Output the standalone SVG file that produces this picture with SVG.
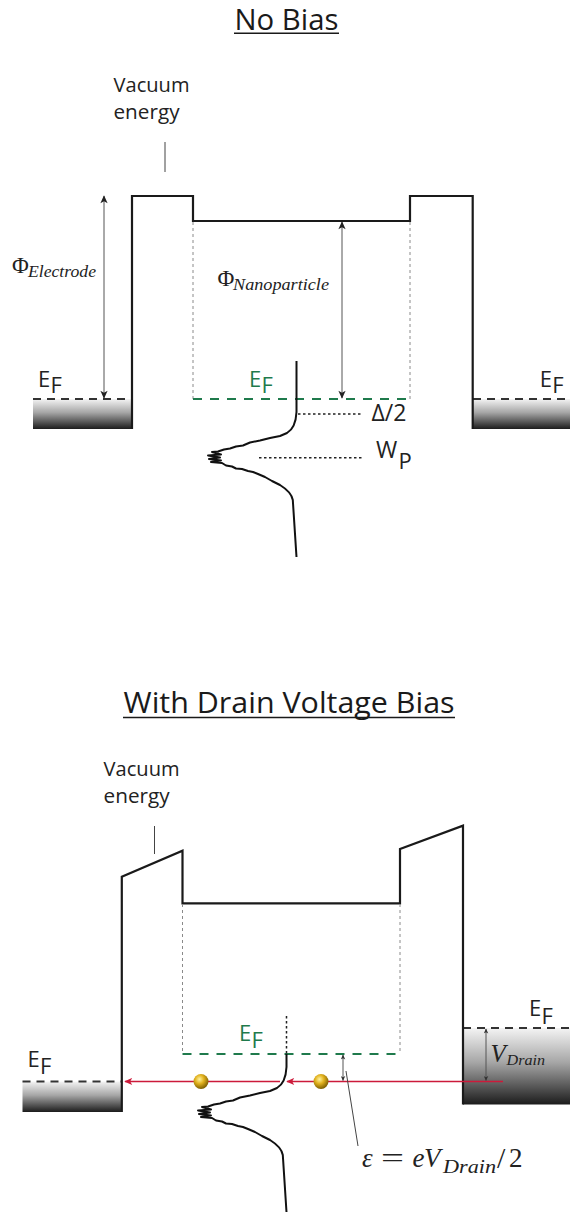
<svg xmlns="http://www.w3.org/2000/svg" xmlns:xlink="http://www.w3.org/1999/xlink" width="570" height="1213" viewBox="0 0 570 1213">
<style>
.bg{fill:#ffffff}
.title{font-family:"Open Sans","Liberation Sans",sans-serif;font-size:30px;fill:#1a1a1a}
.lbl{font-family:"Open Sans","Liberation Sans",sans-serif;font-size:22px;fill:#222}
.vac{font-family:"Open Sans","Liberation Sans",sans-serif;font-size:20px;fill:#222}
.green{fill:#1f7a4c}
.math{font-family:"Liberation Serif","DejaVu Serif",serif;fill:#222}
.it{font-style:italic}
.ul{stroke:#1a1a1a;stroke-width:1.5}
.bar{fill:none;stroke:#1a1a1a;stroke-width:2.2;stroke-linejoin:miter}
.efd{stroke:#333;stroke-width:2;stroke-dasharray:8 6;fill:none}
.efg{stroke:#1f7a4c;stroke-width:2;stroke-dasharray:9 8;fill:none}
.gdot{stroke:#8a8a8a;stroke-width:1;stroke-dasharray:3 3;fill:none}
.kdot{stroke:#222;stroke-width:1.5;stroke-dasharray:2.5 2.5;fill:none}
.lead{stroke:#444;stroke-width:1;fill:none}
.arr{stroke:#555;stroke-width:1;fill:none}
.red{stroke:#cc1a3a;stroke-width:1.3;fill:none}
.dos{stroke:#111;stroke-width:2;fill:none;stroke-linejoin:round}
</style>
<defs>
<linearGradient id="metal" x1="0" y1="0" x2="0" y2="1">
<stop offset="0" stop-color="#f4f4f4"/>
<stop offset="0.45" stop-color="#a6a6a6"/>
<stop offset="1" stop-color="#1c1c1c"/>
</linearGradient>
<radialGradient id="gold" cx="0.4" cy="0.35" r="0.65">
<stop offset="0" stop-color="#fff3a0"/>
<stop offset="0.45" stop-color="#e2b21e"/>
<stop offset="1" stop-color="#7e5e00"/>
</radialGradient>
<marker id="ah" viewBox="0 0 10 10" refX="9" refY="5" markerUnits="userSpaceOnUse" markerWidth="9" markerHeight="8" orient="auto-start-reverse">
<path d="M0,0.5 L10,5 L0,9.5 L2.5,5 z" fill="#222"/>
</marker>
<marker id="ahs" viewBox="0 0 10 10" refX="9" refY="5" markerUnits="userSpaceOnUse" markerWidth="6" markerHeight="5" orient="auto-start-reverse">
<path d="M0,0.5 L10,5 L0,9.5 L2.5,5 z" fill="#333"/>
</marker>
<marker id="ahr" viewBox="0 0 10 10" refX="9" refY="5" markerUnits="userSpaceOnUse" markerWidth="12" markerHeight="8" orient="auto">
<path d="M0,0.5 L10,5 L0,9.5 L2.5,5 z" fill="#cc1a3a"/>
</marker>
<path id="dosc" d="M296.5,399 V412 C296,422 294,429 287,433 L280,436 L270,438 L260,440.5 L250,442.5 L243,445.5 L236,446.5 L230,448.5 L224,449.5 L218,451.5 L212,452 L221,454.5 L208,455.5 L220,457.5 L209,459 L221,460.5 L211,462 L222,463 L226,465.5 L232,466.5 L236,468.5 L242,469 L248,471 L253,472 L258,474 L265,477 L272,481 L280,485 C288,490 292,495 292.8,500 L296.5,557"/>
</defs>
<rect class="bg" x="0" y="0" width="570" height="1213"/>

<!-- ============ NO BIAS ============ -->
<g id="title-nobias">
<text class="title" x="234.5" y="30" textLength="104" lengthAdjust="spacingAndGlyphs">No Bias</text>
<line class="ul" x1="234" y1="33.2" x2="339" y2="33.2"/>
</g>
<g id="vacuum-label-1">
<text class="vac" x="113.5" y="92" textLength="76" lengthAdjust="spacingAndGlyphs">Vacuum</text>
<text class="vac" x="113.5" y="119" textLength="66" lengthAdjust="spacingAndGlyphs">energy</text>
</g>
<g id="electrode-left-1">
<rect x="33" y="399" width="99" height="30" fill="url(#metal)"/>
<line class="efd" x1="33" y1="399" x2="132" y2="399"/>
<text class="lbl" x="38" y="386.7">E</text><text class="lbl" x="50.5" y="393.3">F</text>
</g>
<g id="electrode-right-1">
<rect x="473" y="399" width="97" height="30" fill="url(#metal)"/>
<line class="efd" x1="473" y1="399" x2="570" y2="399"/>
<text class="lbl" x="539.7" y="386.7">E</text><text class="lbl" x="552.2" y="393.3">F</text>
</g>
<g id="barrier-1">
<path class="bar" d="M132,429 V196 H193 V221 H410 V196 H472.7 V429"/>
</g>
<g id="nanoparticle-1">
<line class="gdot" x1="193" y1="222" x2="193" y2="399"/>
<line class="gdot" x1="410" y1="222" x2="410" y2="399"/>
<line class="efg" x1="193" y1="399" x2="410" y2="399"/>
<text class="lbl green" x="249" y="386.7">E</text><text class="lbl green" x="261.5" y="393.3">F</text>
</g>
<g id="dos-1">
<line class="dos" x1="296.5" y1="361" x2="296.5" y2="399"/>
<use xlink:href="#dosc" href="#dosc" class="dos"/>
</g>
<g id="levels-1">
<line class="kdot" x1="298" y1="414" x2="362" y2="414"/>
<line class="kdot" x1="259" y1="457.7" x2="362" y2="457.7"/>
<text class="lbl" x="371.5" y="421" style="font-size:23px">Δ/2</text>
<text class="lbl" x="376" y="458.3" style="font-size:23px">W</text><text class="lbl" x="398.5" y="469" style="font-size:22px">P</text>
</g>
<g id="phi-labels-1">
<text class="math" x="12" y="273" style="font-size:23px">Φ</text>
<text class="math it" x="28" y="276.5" style="font-size:16px" textLength="68" lengthAdjust="spacingAndGlyphs">Electrode</text>
<text class="math" x="217.5" y="286" style="font-size:23px">Φ</text>
<text class="math it" x="233" y="289.5" style="font-size:16px" textLength="96" lengthAdjust="spacingAndGlyphs">Nanoparticle</text>
</g>

<!-- ============ WITH DRAIN BIAS ============ -->
<g id="title-bias">
<text class="title" x="123.6" y="713" textLength="331" lengthAdjust="spacingAndGlyphs">With Drain Voltage Bias</text>
<line class="ul" x1="123" y1="717.5" x2="455" y2="717.5"/>
</g>
<g id="vacuum-label-2">
<text class="vac" x="103.6" y="776" textLength="76" lengthAdjust="spacingAndGlyphs">Vacuum</text>
<text class="vac" x="103.6" y="803" textLength="66" lengthAdjust="spacingAndGlyphs">energy</text>
</g>
<g id="electrode-left-2">
<rect x="22.5" y="1081.5" width="99.3" height="30.5" fill="url(#metal)"/>
<line class="efd" x1="22.5" y1="1081.5" x2="122" y2="1081.5"/>
<text class="lbl" x="27.5" y="1066.7">E</text><text class="lbl" x="40" y="1074">F</text>
</g>
<g id="electrode-right-2">
<rect x="463" y="1028" width="107" height="76.5" fill="url(#metal)"/>
<line class="efd" x1="463" y1="1028" x2="570" y2="1028"/>
<text class="lbl" x="529" y="1016">E</text><text class="lbl" x="541.5" y="1023.5">F</text>
</g>
<g id="barrier-2">
<path class="bar" d="M121.8,1112 V876.7 L182.5,850.7 V903.3 H400 V849 L463,825.7 V1104.5"/>
</g>
<g id="nanoparticle-2">
<line class="gdot" x1="182.5" y1="904" x2="182.5" y2="1054"/>
<line class="gdot" x1="400" y1="904" x2="400" y2="1054"/>
<line class="efg" x1="182.5" y1="1054" x2="400" y2="1054"/>
<text class="lbl green" x="239" y="1040.5">E</text><text class="lbl green" x="251.5" y="1047.5">F</text>
</g>
<g id="connectors">
<line class="lead" x1="165" y1="142" x2="165" y2="172"/>
<line class="lead" x1="154.5" y1="826" x2="154.5" y2="854"/>
<line class="arr" x1="104" y1="196" x2="104" y2="398" marker-start="url(#ah)" marker-end="url(#ah)"/>
<line class="arr" x1="342" y1="222" x2="342" y2="398" marker-start="url(#ah)" marker-end="url(#ah)"/>
<line class="red" x1="503" y1="1081.5" x2="287" y2="1081.5" marker-end="url(#ahr)"/>
<line class="red" x1="280" y1="1081.5" x2="125" y2="1081.5" marker-end="url(#ahr)"/>
<line class="arr" x1="486" y1="1029" x2="486" y2="1080.5" marker-start="url(#ahs)" marker-end="url(#ahs)"/>
<line class="arr" x1="343" y1="1055" x2="343" y2="1080.5" marker-start="url(#ahs)" marker-end="url(#ahs)"/>
<line class="lead" x1="346" y1="1071" x2="358" y2="1146"/>
</g>
<g id="dos-2">
<line class="kdot" x1="286.5" y1="1016" x2="286.5" y2="1054"/>
<use xlink:href="#dosc" href="#dosc" class="dos" transform="translate(-10,655)"/>
</g>
<g id="electrons">
<circle cx="201" cy="1081.5" r="7.5" fill="url(#gold)"/>
<circle cx="321" cy="1081.5" r="7.5" fill="url(#gold)"/>
</g>
<g id="vdrain-label">
<text class="math it" x="490.5" y="1061.5" style="font-size:25px">V</text>
<text class="math it" x="506.5" y="1064.5" style="font-size:15px" textLength="38.5" lengthAdjust="spacingAndGlyphs">Drain</text>
</g>
<g id="epsilon-label">
<text class="math it" x="362" y="1167" style="font-size:27px">ε</text>
<text class="math" x="381" y="1167" style="font-size:27px" textLength="23" lengthAdjust="spacingAndGlyphs">=</text>
<text class="math it" x="412.5" y="1167" style="font-size:27px">e</text>
<text class="math it" x="424" y="1167" style="font-size:27px">V</text>
<text class="math it" x="443" y="1172.5" style="font-size:18px" textLength="53" lengthAdjust="spacingAndGlyphs">Drain</text>
<text class="math" x="497" y="1168" style="font-size:30px">/</text>
<text class="math" x="509" y="1167" style="font-size:27px">2</text>
</g>
</svg>
